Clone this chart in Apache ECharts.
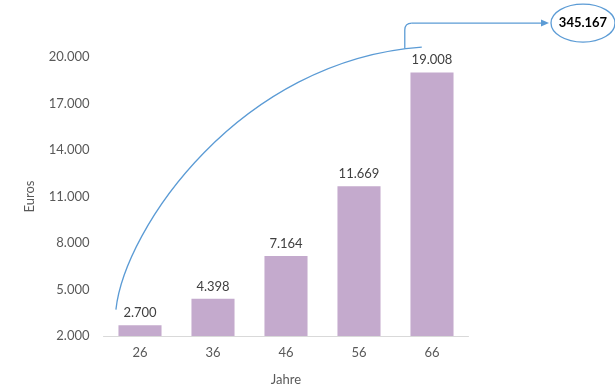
<!DOCTYPE html>
<html>
<head>
<meta charset="utf-8">
<script src="https://cdn.jsdelivr.net/npm/echarts@6/dist/echarts.min.js"></script>
<style>
  html, body { margin: 0; padding: 0; background: #fff; }
  #chart { width: 615px; height: 391px; }
</style>
</head>
<body>
<div id="chart"></div>
<script>
// Ages (years) and saved amount in euros
const categories = ['26', '36', '46', '56', '66'];
const savings = [2700, 4398, 7164, 11669, 19008];
const totalLabel = '345.167';

// y axis range and step
const yMin = 2000;
const yMax = 20000;
const yStep = 3000;

// Arrow curve anchored in axis units: [category index offset, euro value]
const curveStart = [-0.33, 3700];
const curveCtrl1 = [-0.21, 8950];
const curveCtrl2 = [1.37, 19800];
const curveEnd = [3.86, 20640];

const fontFamily = 'Lato, "Liberation Sans", sans-serif';
const blue = '#5b9bd5';

function fmt(v) {
  return String(v).replace(/\B(?=(\d{3})+(?!\d))/g, '.');
}

const chart = echarts.init(document.getElementById('chart'));

chart.setOption({
  animation: false,
  backgroundColor: '#ffffff',
  grid: { left: 103.5, right: 146.5, top: 57, bottom: 52 },
  xAxis: {
    type: 'category',
    data: categories,
    name: 'Jahre',
    nameLocation: 'middle',
    nameGap: 37,
    nameTextStyle: { color: '#595959', fontSize: 13, fontFamily },
    axisLine: { lineStyle: { color: '#d9d9d9', width: 1 } },
    axisTick: { show: false },
    axisLabel: { color: '#595959', fontSize: 13, fontFamily, margin: 10 }
  },
  yAxis: {
    type: 'value',
    min: yMin,
    max: yMax,
    interval: yStep,
    name: 'Euros',
    nameLocation: 'middle',
    nameGap: 67,
    nameTextStyle: { color: '#595959', fontSize: 13, fontFamily },
    axisLine: { show: false },
    axisTick: { show: false },
    splitLine: { show: false },
    axisLabel: { color: '#595959', fontSize: 13, fontFamily, margin: 14, formatter: fmt }
  },
  series: [{
    type: 'bar',
    data: savings,
    barWidth: '59%',
    itemStyle: { color: '#c4aacd' },
    label: {
      show: true,
      position: 'top',
      distance: 6,
      color: '#404040',
      fontSize: 13,
      fontFamily,
      formatter: p => fmt(p.value)
    }
  }]
});

// Annotation: curved arrow from the first bar toward the running total
function pt(p) {
  const x0 = chart.convertToPixel({ xAxisIndex: 0 }, 0);
  const x1 = chart.convertToPixel({ xAxisIndex: 0 }, 1);
  return [x0 + p[0] * (x1 - x0), chart.convertToPixel({ yAxisIndex: 0 }, p[1])];
}

const s = pt(curveStart), c1 = pt(curveCtrl1), c2 = pt(curveCtrl2), e = pt(curveEnd);
// connector rises from the curve near its end, turns right to the ellipse
const stemX = e[0] - 17;
const stemBottom = e[1] + 1.5;
const stemTop = e[1] - 17;
const turnY = e[1] - 24;
const ellipseCx = 583, ellipseCy = turnY, ellipseRx = 32, ellipseRy = 19;
const arrowTip = ellipseCx - ellipseRx - 2;
const lineStyle = { stroke: blue, lineWidth: 1.3, fill: null };

chart.setOption({
  graphic: [
    {
      type: 'bezierCurve',
      shape: { x1: s[0], y1: s[1], cpx1: c1[0], cpy1: c1[1], cpx2: c2[0], cpy2: c2[1], x2: e[0], y2: e[1] },
      style: lineStyle
    },
    {
      type: 'line',
      shape: { x1: stemX, y1: stemBottom, x2: stemX, y2: stemTop },
      style: lineStyle
    },
    {
      type: 'bezierCurve',
      shape: { x1: stemX, y1: stemTop, cpx1: stemX, cpy1: turnY, x2: stemX + 7, y2: turnY },
      style: lineStyle
    },
    {
      type: 'line',
      shape: { x1: stemX + 7, y1: turnY, x2: arrowTip - 6, y2: turnY },
      style: lineStyle
    },
    {
      type: 'polygon',
      shape: { points: [[arrowTip, turnY], [arrowTip - 8, turnY - 3.5], [arrowTip - 8, turnY + 3.5]] },
      style: { fill: blue }
    },
    {
      type: 'ellipse',
      shape: { cx: ellipseCx, cy: ellipseCy, rx: ellipseRx, ry: ellipseRy },
      style: { stroke: blue, lineWidth: 1.3, fill: '#ffffff' }
    },
    {
      type: 'text',
      x: ellipseCx,
      y: ellipseCy,
      style: {
        text: totalLabel,
        fill: '#000000',
        font: 'bold 13px ' + fontFamily,
        align: 'center',
        verticalAlign: 'middle'
      }
    }
  ]
});
</script>
</body>
</html>
